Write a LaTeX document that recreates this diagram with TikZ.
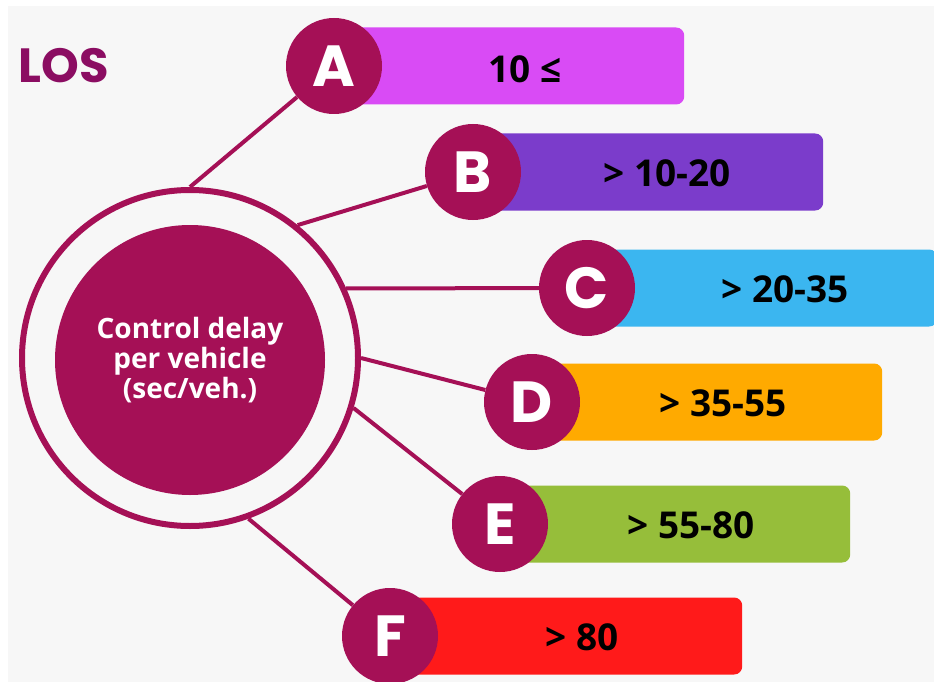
\documentclass[tikz,border=0pt]{standalone}
\usepackage{fontspec}
\setmainfont{Open Sans}
\newfontfamily\losfont{Poppins}
\usepackage{xcolor}
\definecolor{losberry}{HTML}{A51056}
\definecolor{losplum}{HTML}{8B0D62}
\definecolor{paper}{HTML}{F7F7F7}
\definecolor{barA}{HTML}{D94BF5}
\definecolor{barB}{HTML}{7B3CCB}
\definecolor{barC}{HTML}{3BB6F0}
\definecolor{barD}{HTML}{FFAA00}
\definecolor{barE}{HTML}{96BE3A}
\definecolor{barF}{HTML}{FF1A1A}

\begin{document}
\begin{tikzpicture}[x=1pt, y=-1pt]
    \tikzset{
        letter/.style={circle, fill=losberry, text=white, minimum size=96pt, inner sep=0pt,
            font=\losfont\bfseries\fontsize{58}{58}\selectfont},
        bar/.style={rounded corners=8pt, minimum height=77pt, inner sep=0pt, anchor=west},
        rangetext/.style={inner sep=1pt, font=\bfseries\fontsize{37}{37}\selectfont},
        link/.style={draw=losberry, line width=4pt}
    }
    \useasboundingbox (0,0) rectangle (934,682);
    \fill[white] (0,0) rectangle (934,682);
    \fill[paper] (8,6) rectangle (934,682);

    \node[font=\losfont\bfseries\fontsize{48}{48}\selectfont, text=losplum] (title) at (64,66) {LOS};

    % bars behind the letters
    \node[bar, fill=barA, minimum width=350pt] (barA) at (334,66) {};
    \node[bar, fill=barB, minimum width=350pt] (barB) at (473,172) {};
    \node[bar, fill=barC, minimum width=350pt] (barC) at (587,288) {};
    \node[bar, fill=barD, minimum width=350pt] (barD) at (532,402) {};
    \node[bar, fill=barE, minimum width=350pt] (barE) at (500,524) {};
    \node[bar, fill=barF, minimum width=352pt] (barF) at (390,636) {};

    \node[rangetext] (valA) at (525,69) {10 ≤};
    \node[rangetext] (valB) at (667,173) {> 10-20};
    \node[rangetext] (valC) at (785,289) {> 20-35};
    \node[rangetext] (valD) at (723,403) {> 35-55};
    \node[rangetext] (valE) at (691,525) {> 55-80};
    \node[rangetext] (valF) at (582,637) {> 80};

    \node[letter] (A) at (334,66) {A};
    \node[letter] (B) at (473,172) {B};
    \node[letter] (C) at (587,288) {C};
    \node[letter] (D) at (532,402) {D};
    \node[letter] (E) at (500,524) {E};
    \node[letter] (F) at (390,636) {F};

    % hub
    \node[circle, draw=losberry, line width=6pt, minimum size=336pt] (ring) at (190,358) {};
    \node[circle, fill=losberry, minimum size=270pt, text=white, align=center,
        font=\bfseries\fontsize{28}{30}\selectfont] (hub) at (190,360)
        {Control delay\\per vehicle\\(sec/veh.)};

    \draw[link] (ring.90) -- (A);
    \draw[link] (ring.51.6) -- (B);
    \draw[link] (ring.24.6) -- (C);
    \draw[link] (ring.0) -- (D);
    \draw[link] (ring.-17) -- (E);
    \draw[link] (ring.-70.6) -- (F);
\end{tikzpicture}
\end{document}
